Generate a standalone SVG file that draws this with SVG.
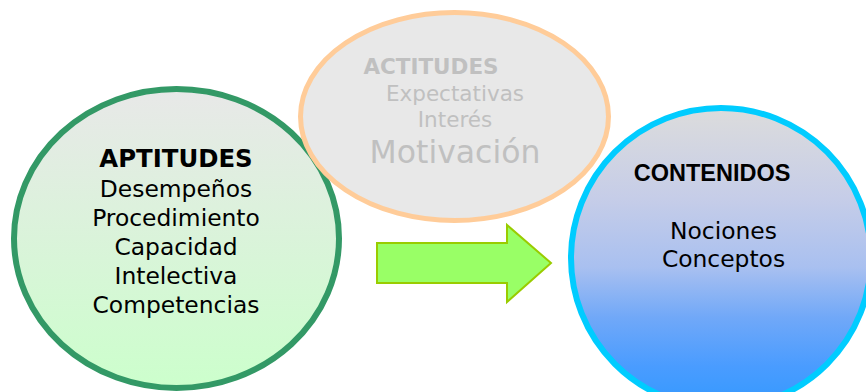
<svg xmlns="http://www.w3.org/2000/svg" width="866" height="392" viewBox="0 0 866 392">
<style>
.body{font-family:"DejaVu Sans",Verdana,sans-serif;font-size:23.4px;fill:#000;text-anchor:middle}
.top{font-family:"DejaVu Sans",Verdana,sans-serif;font-size:21.5px;fill:#c0c0c0;text-anchor:middle}
.b{font-weight:bold}
</style>
<defs>
<linearGradient id="gGreen" x1="0" y1="0" x2="0" y2="1">
<stop offset="0" stop-color="#e8e8e8"/>
<stop offset="1" stop-color="#ccffcc"/>
</linearGradient>
<linearGradient id="gBlue" x1="0" y1="0" x2="0" y2="1">
<stop offset="0" stop-color="#dcdcdc"/>
<stop offset="0.3" stop-color="#c6cde8"/>
<stop offset="0.53" stop-color="#a9c0f0"/>
<stop offset="0.7" stop-color="#70a8f8"/>
<stop offset="0.86" stop-color="#4a9cff"/>
<stop offset="1" stop-color="#3399ff"/>
</linearGradient>
</defs>
<g id="aptitudes">
<ellipse cx="176.5" cy="238.5" rx="162.5" ry="149.5" fill="url(#gGreen)" stroke="#339966" stroke-width="6"/>
<text class="body b" x="176" y="166.5" style="font-size:24.4px">APTITUDES</text>
<text class="body" x="176" y="196.5">Desempeños</text>
<text class="body" x="176" y="226">Procedimiento</text>
<text class="body" x="176" y="255">Capacidad</text>
<text class="body" x="176" y="284">Intelectiva</text>
<text class="body" x="176" y="312.5">Competencias</text>
</g>
<g id="contenidos">
<circle cx="721" cy="258" r="150" fill="url(#gBlue)" stroke="#00ccff" stroke-width="6"/>
<text x="712" y="181" font-family="'Liberation Sans',Arial,sans-serif" font-weight="bold" font-size="23.5" text-anchor="middle" fill="#000">CONTENIDOS</text>
<text class="body" x="723.5" y="238.5">Nociones</text>
<text class="body" x="723.5" y="266.5">Conceptos</text>
</g>
<g id="actitudes">
<ellipse cx="454.5" cy="116.5" rx="154" ry="104" fill="#e8e8e8" stroke="#ffcc99" stroke-width="5"/>
<text class="top b" x="431" y="74">ACTITUDES</text>
<text class="top" x="455" y="100.5">Expectativas</text>
<text class="top" x="455" y="126.5">Interés</text>
<text class="top" x="455" y="163" style="font-size:31.5px">Motivación</text>
</g>
<g id="connectors">
<polygon points="377,243 507,243 507,225 551,263 507,302 507,283 377,283" fill="#99ff66" stroke="#99cc00" stroke-width="2" stroke-linejoin="miter"/>
</g>
</svg>
